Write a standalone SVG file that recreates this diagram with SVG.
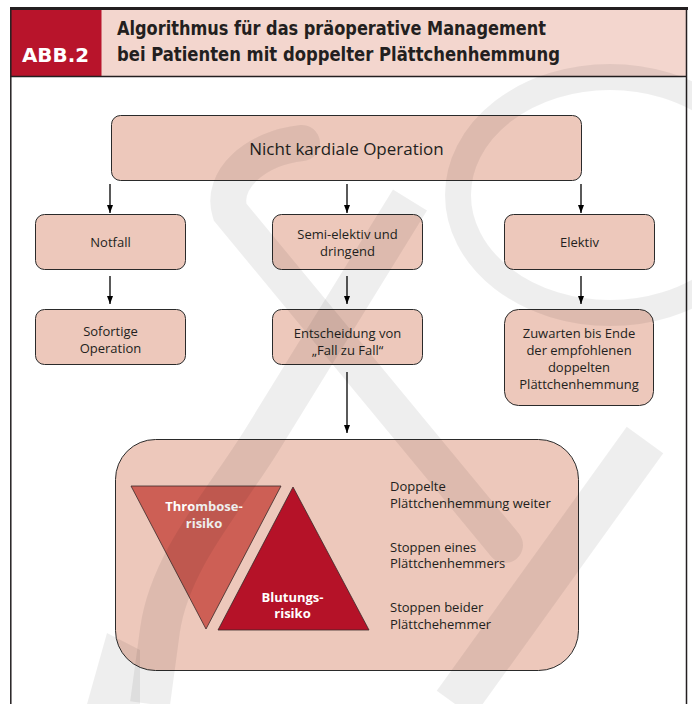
<svg xmlns="http://www.w3.org/2000/svg" width="692" height="704" viewBox="0 0 692 704">
<defs>
<style>
.box{fill:#edc8bb;stroke:#2a2a2a;stroke-width:1}
.t{font-family:"Open Sans","Liberation Sans",sans-serif;font-size:13px;fill:#231f20;text-anchor:middle}
.tl{font-family:"Open Sans","Liberation Sans",sans-serif;font-size:13px;fill:#231f20}
.tw{font-family:"Open Sans","Liberation Sans",sans-serif;font-weight:bold;font-size:13px;fill:#ffffff;text-anchor:middle}
.hd{font-family:"Liberation Sans Narrow","DejaVu Sans Condensed","Liberation Sans",sans-serif;font-weight:bold;font-size:19px;fill:#231f20}
.wm{fill:none;stroke:#000;stroke-opacity:0.065}
.wmf{fill:#000;fill-opacity:0.065}
.conn line{stroke:#000;stroke-width:1.3}
</style>
<marker id="ah" viewBox="0 0 8 6" refX="8" refY="3" markerWidth="8" markerHeight="6" orient="auto" markerUnits="userSpaceOnUse">
<path d="M0,0 L8,3 L0,6 z" fill="#000"/>
</marker>
</defs>
<rect x="0" y="0" width="692" height="704" fill="#ffffff"/>

<g id="header">
<rect x="10.5" y="9" width="676" height="67" fill="#f3d6ce"/>
<rect x="10.5" y="9" width="91" height="67" fill="#b8142b"/>
<rect x="10" y="7" width="678" height="3" fill="#231f20"/>
<line x1="10" y1="76.5" x2="687" y2="76.5" stroke="#231f20" stroke-width="1.5"/>
<line x1="10.8" y1="8" x2="10.8" y2="704" stroke="#231f20" stroke-width="1.5"/>
<line x1="686.5" y1="8" x2="686.5" y2="704" stroke="#231f20" stroke-width="1.5"/>
<text x="22" y="62" class="hd" style="fill:#ffffff;font-size:20px" textLength="67" lengthAdjust="spacingAndGlyphs">ABB.2</text>
<text x="117" y="35" class="hd" textLength="429" lengthAdjust="spacingAndGlyphs">Algorithmus für das präoperative Management</text>
<text x="117" y="61" class="hd" textLength="443" lengthAdjust="spacingAndGlyphs">bei Patienten mit doppelter Plättchenhemmung</text>
</g>

<g id="n-top">
<rect class="box" x="111.5" y="115.5" width="470" height="65" rx="9"/>
<text class="t" x="346.5" y="155" style="font-size:17px">Nicht kardiale Operation</text>
</g>
<g id="n-notfall">
<rect class="box" x="35.5" y="214.5" width="150" height="55" rx="9"/>
<text class="t" x="110.5" y="246.5">Notfall</text>
</g>
<g id="n-semi">
<rect class="box" x="272.5" y="214.5" width="150" height="55" rx="9"/>
<text class="t" x="347.5" y="238.5">Semi-elektiv und</text>
<text class="t" x="347.5" y="255.5">dringend</text>
</g>
<g id="n-elektiv">
<rect class="box" x="504.5" y="214.5" width="150" height="55" rx="9"/>
<text class="t" x="579.5" y="246.5">Elektiv</text>
</g>
<g id="n-sofort">
<rect class="box" x="35.5" y="309.5" width="150" height="55" rx="9"/>
<text class="t" x="110.5" y="336">Sofortige</text>
<text class="t" x="110.5" y="353">Operation</text>
</g>
<g id="n-entscheidung">
<rect class="box" x="272.5" y="309.5" width="150" height="55" rx="9"/>
<text class="t" x="347.5" y="338">Entscheidung von</text>
<text class="t" x="347.5" y="355">„Fall zu Fall“</text>
</g>
<g id="n-zuwarten">
<rect class="box" x="504.5" y="309.5" width="149" height="96" rx="14"/>
<text class="t" x="579" y="338">Zuwarten bis Ende</text>
<text class="t" x="579" y="355">der empfohlenen</text>
<text class="t" x="579" y="372">doppelten</text>
<text class="t" x="579" y="389">Plättchenhemmung</text>
</g>

<g id="n-risiko">
<rect class="box" x="115.5" y="439.5" width="463" height="231" rx="40"/>
<polygon points="131,486 281,486 206,629" fill="#cd5f55" stroke="#3a2a2a" stroke-width="0.8"/>
<polygon points="293,487 218,630 369,630" fill="#b51228" stroke="#3a2a2a" stroke-width="0.8"/>
<text class="tw" x="204" y="511">Thrombose-</text>
<text class="tw" x="204" y="527.5">risiko</text>
<text class="tw" x="292.5" y="601.5">Blutungs-</text>
<text class="tw" x="292.5" y="618">risiko</text>
<text class="tl" x="390" y="490.5">Doppelte</text>
<text class="tl" x="390" y="508">Plättchenhemmung weiter</text>
<text class="tl" x="390" y="551.5">Stoppen eines</text>
<text class="tl" x="390" y="568">Plättchenhemmers</text>
<text class="tl" x="390" y="611.5">Stoppen beider</text>
<text class="tl" x="390" y="628.5">Plättchehemmer</text>
</g>

<g id="connectors" class="conn">
<line x1="110" y1="184" x2="110" y2="213" marker-end="url(#ah)"/>
<line x1="347" y1="184" x2="347" y2="213" marker-end="url(#ah)"/>
<line x1="581" y1="184" x2="581" y2="213" marker-end="url(#ah)"/>
<line x1="110" y1="276" x2="110" y2="304" marker-end="url(#ah)"/>
<line x1="347" y1="276" x2="347" y2="304" marker-end="url(#ah)"/>
<line x1="581" y1="276" x2="581" y2="304" marker-end="url(#ah)"/>
<line x1="347" y1="372" x2="347" y2="433" marker-end="url(#ah)"/>
</g>

<g id="watermark">
<ellipse class="wm" stroke-width="26" cx="610" cy="195" rx="152" ry="118"/>
<path class="wm" stroke-width="36" stroke-linecap="round" d="M 302,143 C 255,148 220,180 230,212 L 505,545"/>
<path class="wm" stroke-width="40" d="M 410,200 L 262,440 C 225,500 170,560 160,630 L 150,704"/>
<path class="wm" stroke-width="45" d="M 645,440 L 455,704"/>
<polygon class="wmf" points="107,633 87,704 140,704 140,650"/>
</g>
</svg>
